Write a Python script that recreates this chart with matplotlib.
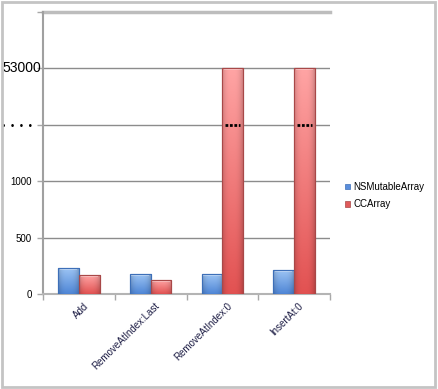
import numpy as np
import matplotlib
matplotlib.use("Agg")
import matplotlib.pyplot as plt
from matplotlib.patches import Rectangle

plt.rcParams['font.family'] = ['Liberation Sans', 'DejaVu Sans']

categories = ['Add', 'RemoveAtIndex:Last', 'RemoveAtIndex:0', 'InsertAt:0']
ns_mutable = [227, 174, 174, 212]
cc_array = [165, 124, 53000, 53000]
series_names = ['NSMutableArray', 'CCArray']

tick_values = [0, 500, 1000, 27000, 53000, 79000]
tick_labels = ['0', '500', '1000', '\u2022  \u2022  \u2022  \u2022', '', '']
big_label = '53000'


def squash(v):
    # broken axis: linear up to 1000, then 52000 per 1000 units
    v = np.asarray(v, dtype=float)
    return np.where(v <= 1000, v, 1000 + (v - 1000) / 52.0)


def shaded_bar(ax, x, w, h, top, bottom, edge):
    bar = ax.bar(x, h, w, color=bottom, edgecolor=edge, linewidth=0.8, zorder=3)[0]
    c_top = np.array(matplotlib.colors.to_rgb(top))
    c_bot = np.array(matplotlib.colors.to_rgb(bottom))
    ny, nx = 64, 24
    t = np.linspace(0, 1, ny)[:, None, None]
    img = c_top * (1 - t) + c_bot * t
    prof = 1 - 0.18 * np.abs(np.linspace(-1, 1, nx)) ** 3
    img = img * prof[None, :, None]
    im = ax.imshow(np.clip(img, 0, 1), extent=(x - w / 2, x + w / 2, 0, h),
                   aspect='auto', origin='upper', zorder=3.5, interpolation='bilinear')
    im.set_clip_path(bar)
    # glossy cap
    ax.add_patch(Rectangle((x - w / 2 + w * 0.08, h - 14), w * 0.84, 8,
                           color='white', alpha=0.35, lw=0, zorder=4))
    ax.bar(x, h, w, fill=False, edgecolor=edge, linewidth=0.8, zorder=5)
    return bar


fig = plt.figure(figsize=(4.38, 3.89), dpi=100)
ax = fig.add_axes([43 / 438, 1 - 294 / 389, 287 / 438, 282 / 389])

x = np.arange(len(categories))
w = 0.29
ns_h = squash(ns_mutable)
cc_h = squash(cc_array)
for i in range(len(categories)):
    shaded_bar(ax, x[i] - w / 2, w, ns_h[i], '#9cc4f4', '#4f86d6', '#3d6fb8')
    shaded_bar(ax, x[i] + w / 2, w, cc_h[i], '#ffa4a4', '#e25252', '#a84848')
    if cc_array[i] > 1000:
        ax.hlines(squash(27000), x[i] + w / 2 - w * 0.36, x[i] + w / 2 + w * 0.36,
                  colors='black', linestyles=(0, (1, 0.6)), linewidth=2.0, zorder=6)

ax.set_xlim(-0.5, len(categories) - 0.5)
ax.set_ylim(0, squash(79000))
ax.set_yticks(squash(tick_values))
ax.set_yticklabels(tick_labels)
for lbl, v in zip(ax.get_yticklabels(), tick_values):
    lbl.set_fontsize(7)
ax.annotate(big_label, (0, squash(53000)), xycoords=('axes fraction', 'data'),
            xytext=(-1, 0), textcoords='offset points', ha='right', va='center',
            fontsize=10, color='black')

ax.set_xticks(np.arange(-0.5, len(categories), 1.0))
ax.set_xticklabels([])
ax.tick_params(axis='x', length=4, color='#a8a8a8', width=1)
ax.tick_params(axis='y', length=4, color='#a8a8a8', width=1, pad=4)
for i, c in enumerate(categories):
    ax.annotate(c, (x[i], 0), xycoords=('data', 'axes fraction'),
                xytext=(3, -5), textcoords='offset points', rotation=45,
                rotation_mode='anchor', ha='right', va='top', fontsize=7,
                color='#1c1c44')

for v in tick_values[1:-1]:
    ax.axhline(squash(v), color='#8c8c8c', lw=1, zorder=1)
ax.axhline(squash(79000), color='#bdbdbd', lw=2.5, zorder=1, clip_on=False)

for s in ['top', 'right']:
    ax.spines[s].set_visible(False)
ax.spines['left'].set_color('#a0a0a0')
ax.spines['left'].set_linewidth(1.5)
ax.spines['bottom'].set_color('#b4b4b4')
ax.spines['bottom'].set_linewidth(1.5)

handles = [Rectangle((0, 0), 1, 1, fc='#5a8edc', ec='#3d6fb8', lw=0.5),
           Rectangle((0, 0), 1, 1, fc='#e05a5a', ec='#a84848', lw=0.5)]
fig.legend(handles, series_names, loc='upper left', bbox_to_anchor=(341 / 438, 1 - 178 / 389),
           frameon=False, fontsize=7, handlelength=0.55, handleheight=0.55,
           handletextpad=0.35, labelspacing=0.75, borderaxespad=0)

fig.patches.append(Rectangle((1.5 / 438, 2 / 389), 433 / 438, 385 / 389, transform=fig.transFigure,
                             fill=False, edgecolor='#c4c4c4', lw=2))

fig.savefig('out.png', dpi=100)
